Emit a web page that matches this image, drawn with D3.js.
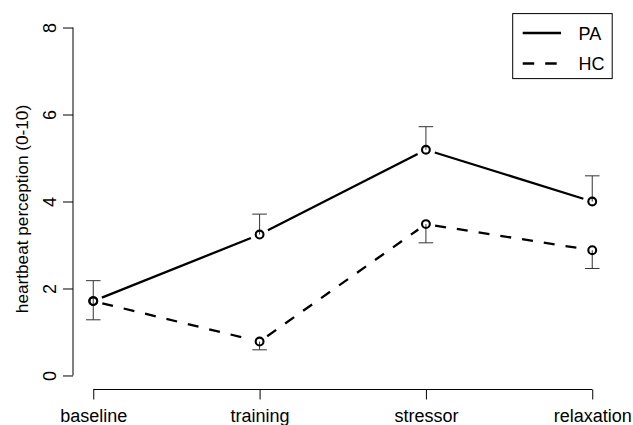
<!DOCTYPE html>
<html><head><meta charset="utf-8">
<script src="https://cdn.jsdelivr.net/npm/d3@7"></script>
<style>body{margin:0;background:#fff}svg{display:block}text{font-family:"Liberation Sans",Arial,sans-serif;fill:#000}</style>
</head><body><svg id="c" width="633" height="425"></svg>
<script>
const categories = ["baseline","training","stressor","relaxation"];
const paValues = [1.71, 3.24, 5.19, 4.00];
const hcValues = [1.71, 0.78, 3.48, 2.88];
const paSE = [0.47, 0.47, 0.53, 0.59];   // drawn upward
const hcSE = [0.43, 0.19, 0.43, 0.42];   // drawn downward
const yTicks = [0, 2, 4, 6, 8];
const seriesNames = ["PA", "HC"];

const svg = d3.select("#c");
const FS = 18;
const x = d3.scaleLinear().domain([0.88, 4.12]).range([73.3, 612.2]);
const y = d3.scaleLinear().domain([-0.32, 8.32]).range([389.4, 13.6]);
const xi = i => x(i + 1);

// y axis
const yAxis = d3.axisLeft(y).tickValues(yTicks).tickSize(10).tickPadding(0).tickFormat(d3.format("d"));
const gy = svg.append("g").attr("transform", "translate(73,0)").call(yAxis);
gy.select(".domain").attr("d", `M0,${y(0)}V${y(8)}`).attr("stroke", "#000");
gy.selectAll(".tick line").attr("stroke", "#000");
gy.selectAll(".tick text").attr("x", null).attr("dy", null)
  .attr("transform", "translate(-17.3,0) rotate(-90)")
  .attr("text-anchor", "middle").attr("font-size", FS)
  .style("font-family", '"Liberation Sans",Arial,sans-serif');

// x axis
const xAxis = d3.axisBottom(x).tickValues([1,2,3,4]).tickSize(10).tickPadding(0)
  .tickFormat(d => categories[d - 1]);
const gx = svg.append("g").attr("transform", "translate(0,389.5)").call(xAxis);
gx.select(".domain").attr("d", `M${x(1)},0H${x(4)}`).attr("stroke", "#000");
gx.selectAll(".tick line").attr("stroke", "#000");
gx.selectAll(".tick text").attr("y", 32.5).attr("dy", null)
  .attr("font-size", FS).style("font-family", '"Liberation Sans",Arial,sans-serif');

// y title
svg.append("text").attr("transform", `translate(28,209) rotate(-90)`)
  .attr("text-anchor", "middle").attr("font-size", 17.2).text("heartbeat perception (0-10)");

// error bars
function errBars(vals, se, dir) {
  const g = svg.append("g").attr("stroke", "#333").attr("stroke-width", 1).attr("fill", "none");
  vals.forEach((v, i) => {
    const end = v + dir * se[i];
    g.append("line").attr("x1", xi(i)).attr("x2", xi(i)).attr("y1", y(v)).attr("y2", y(end));
    g.append("line").attr("x1", xi(i) - 7.3).attr("x2", xi(i) + 7.3).attr("y1", y(end)).attr("y2", y(end));
  });
}
errBars(paValues, paSE, 1);
errBars(hcValues, hcSE, -1);

// lines with gaps (type = "b")
function brokenLine(vals, dash) {
  const g = svg.append("g").attr("stroke", "#000").attr("stroke-width", 2.3).attr("fill", "none");
  for (let i = 0; i < vals.length - 1; i++) {
    const x1 = xi(i), y1 = y(vals[i]), x2 = xi(i+1), y2 = y(vals[i+1]);
    const L = Math.hypot(x2-x1, y2-y1), gap = 9.3;
    const ux = (x2-x1)/L, uy = (y2-y1)/L;
    const l = g.append("line").attr("x1", x1+ux*gap).attr("y1", y1+uy*gap)
      .attr("x2", x2-ux*gap).attr("y2", y2-uy*gap);
    if (dash) l.attr("stroke-dasharray", dash);
  }
}
brokenLine(paValues, null);
brokenLine(hcValues, "11,11");

// points
[paValues, hcValues].forEach(vals => {
  svg.append("g").selectAll("circle").data(vals).join("circle")
    .attr("cx", (d, i) => xi(i)).attr("cy", d => y(d)).attr("r", 3.9)
    .attr("fill", "none").attr("stroke", "#000").attr("stroke-width", 2.1);
});

// legend
const lg = svg.append("g");
lg.append("rect").attr("x", 512.7).attr("y", 13.6).attr("width", 612.2 - 512.7).attr("height", 65)
  .attr("fill", "none").attr("stroke", "#000").attr("stroke-width", 1);
seriesNames.forEach((n, i) => {
  const yy = 33 + i * 30.5;
  const ln = lg.append("line").attr("x1", 522.7).attr("x2", 561).attr("y1", yy).attr("y2", yy)
    .attr("stroke", "#000").attr("stroke-width", 2.3);
  if (i === 1) ln.attr("stroke-dasharray", "11.5,11");
  lg.append("text").attr("x", 578.5).attr("y", yy + 6.5).attr("font-size", FS).text(n);
});
</script></body></html>
